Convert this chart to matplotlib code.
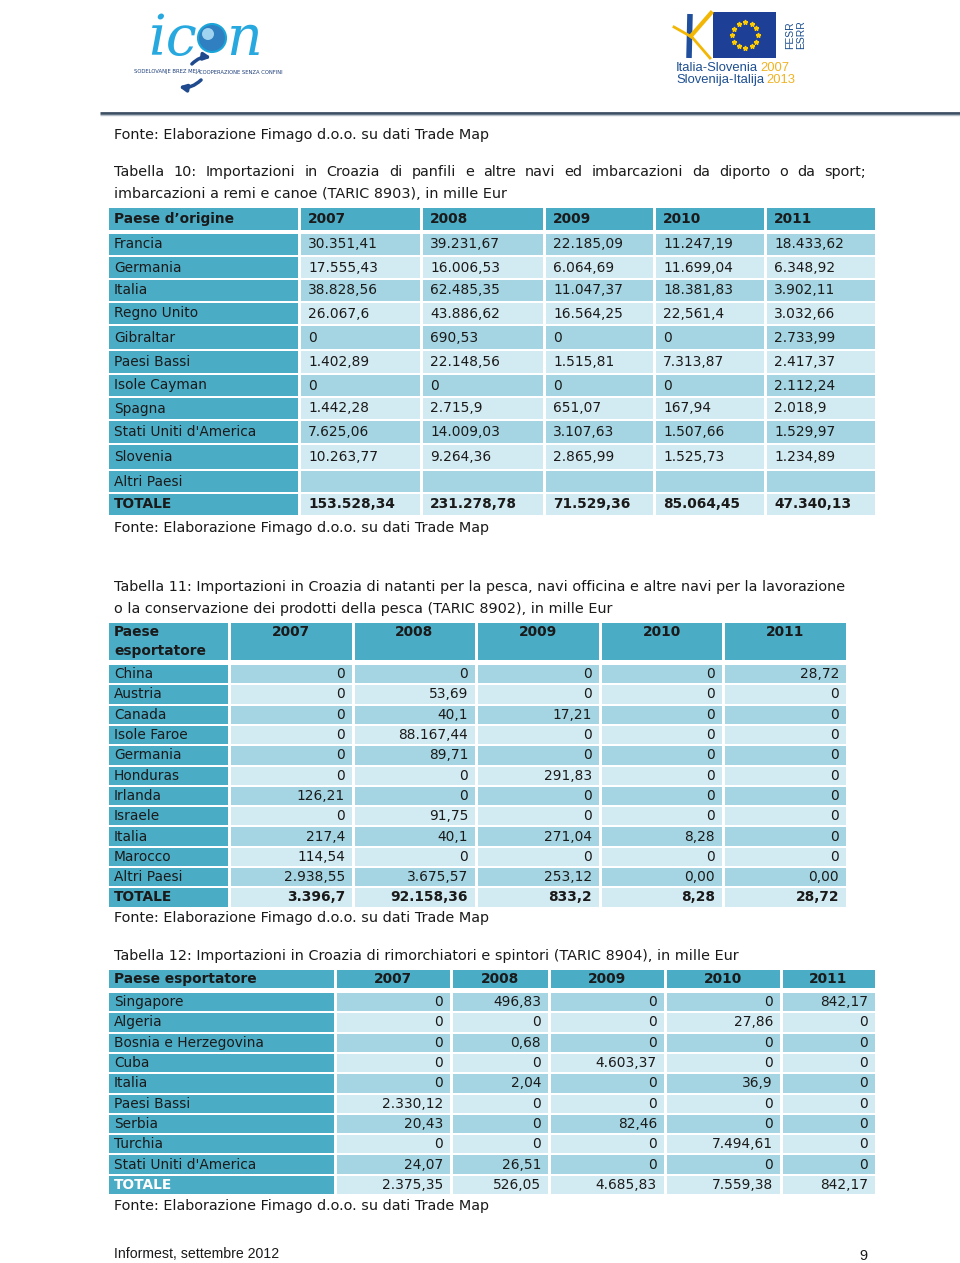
import numpy as np
import matplotlib
matplotlib.use('Agg')
import matplotlib.pyplot as plt
from matplotlib.patches import Rectangle, Circle

# ---- Tabella 10 (TARIC 8903) ----
anni = ['2007', '2008', '2009', '2010', '2011']

paesi10 = ['Francia', 'Germania', 'Italia', 'Regno Unito', 'Gibraltar', 'Paesi Bassi',
           'Isole Cayman', 'Spagna', "Stati Uniti d'America", 'Slovenia', 'Altri Paesi', 'TOTALE']
t10_2007 = ['30.351,41', '17.555,43', '38.828,56', '26.067,6', '0', '1.402,89', '0', '1.442,28',
            '7.625,06', '10.263,77', '', '153.528,34']
t10_2008 = ['39.231,67', '16.006,53', '62.485,35', '43.886,62', '690,53', '22.148,56', '0', '2.715,9',
            '14.009,03', '9.264,36', '', '231.278,78']
t10_2009 = ['22.185,09', '6.064,69', '11.047,37', '16.564,25', '0', '1.515,81', '0', '651,07',
            '3.107,63', '2.865,99', '', '71.529,36']
t10_2010 = ['11.247,19', '11.699,04', '18.381,83', '22,561,4', '0', '7.313,87', '0', '167,94',
            '1.507,66', '1.525,73', '', '85.064,45']
t10_2011 = ['18.433,62', '6.348,92', '3.902,11', '3.032,66', '2.733,99', '2.417,37', '2.112,24',
            '2.018,9', '1.529,97', '1.234,89', '', '47.340,13']

# ---- Tabella 11 (TARIC 8902) ----
paesi11 = ['China', 'Austria', 'Canada', 'Isole Faroe', 'Germania', 'Honduras', 'Irlanda',
           'Israele', 'Italia', 'Marocco', 'Altri Paesi', 'TOTALE']
t11_2007 = ['0', '0', '0', '0', '0', '0', '126,21', '0', '217,4', '114,54', '2.938,55', '3.396,7']
t11_2008 = ['0', '53,69', '40,1', '88.167,44', '89,71', '0', '0', '91,75', '40,1', '0', '3.675,57', '92.158,36']
t11_2009 = ['0', '0', '17,21', '0', '0', '291,83', '0', '0', '271,04', '0', '253,12', '833,2']
t11_2010 = ['0', '0', '0', '0', '0', '0', '0', '0', '8,28', '0', '0,00', '8,28']
t11_2011 = ['28,72', '0', '0', '0', '0', '0', '0', '0', '0', '0', '0,00', '28,72']

# ---- Tabella 12 (TARIC 8904) ----
paesi12 = ['Singapore', 'Algeria', 'Bosnia e Herzegovina', 'Cuba', 'Italia', 'Paesi Bassi',
           'Serbia', 'Turchia', "Stati Uniti d'America", 'TOTALE']
t12_2007 = ['0', '0', '0', '0', '0', '2.330,12', '20,43', '0', '24,07', '2.375,35']
t12_2008 = ['496,83', '0', '0,68', '0', '2,04', '0', '0', '0', '26,51', '526,05']
t12_2009 = ['0', '0', '0', '4.603,37', '0', '0', '82,46', '0', '0', '4.685,83']
t12_2010 = ['0', '27,86', '0', '0', '36,9', '0', '0', '7.494,61', '0', '7.559,38']
t12_2011 = ['842,17', '0', '0', '0', '0', '0', '0', '0', '0', '842,17']

fonte = 'Fonte: Elaborazione Fimago d.o.o. su dati Trade Map'

TEAL = '#4bacc6'
DARK = '#a5d5e2'
LIGHT = '#d2eaf1'
INK = '#1a1a1a'
FONT = 'DejaVu Sans'
FS = 10.4      # testo corrente
FS_T = 9.9     # testo nelle tabelle

fig = plt.figure(figsize=(9.6, 12.63), dpi=100)
ax = fig.add_axes([0, 0, 1, 1])
ax.set_xlim(0, 960)
ax.set_ylim(1263, 0)
ax.axis('off')
renderer = fig.canvas.get_renderer()


def cell(x0, x1, y0, y1, color):
    ax.add_patch(Rectangle((x0 + 1.5, y0 + 1), x1 - x0 - 3, y1 - y0 - 2,
                           facecolor=color, edgecolor='none'))


def txt(x, y, s, ha='left', bold=False, color=INK, size=FS_T):
    return ax.text(x, y, s, ha=ha, va='center', fontsize=size, color=color,
                   family=FONT, fontweight='bold' if bold else 'normal')


def justified(s, x0, x1, y):
    words = s.split()
    objs = [ax.text(0, y, w, va='center', fontsize=FS, color=INK, family=FONT) for w in words]
    widths = [o.get_window_extent(renderer).width for o in objs]
    gap = (x1 - x0 - sum(widths)) / (len(words) - 1)
    x = x0
    for o, w in zip(objs, widths):
        o.set_x(x)
        x += w + gap


def draw_table(paesi, cols, edges, head, rows, head_label, right=True, tot_white=False):
    # header
    for i in range(len(edges) - 1):
        cell(edges[i], edges[i + 1], head[0], head[1], TEAL)
    if isinstance(head_label, list):
        hy = head[0] + 10
        for k, lab in enumerate(head_label):
            txt(edges[0] + 7, hy + k * 19, lab, bold=True)
    else:
        hy = (head[0] + head[1]) / 2
        txt(edges[0] + 7, hy, head_label, bold=True)
    for j, a in enumerate(anni):
        if right:
            txt((edges[j + 1] + edges[j + 2]) / 2, hy, a, ha='center', bold=True)
        else:
            txt(edges[j + 1] + 9, hy, a, bold=True)
    # body
    for i, p in enumerate(paesi):
        y0, y1 = rows[i]
        yc = (y0 + y1) / 2
        tot = p == 'TOTALE'
        cell(edges[0], edges[1], y0, y1, TEAL)
        if tot and tot_white:
            txt(edges[0] + 7, yc, p, bold=True, color='white')
        else:
            txt(edges[0] + 7, yc, p, bold=tot)
        bg = DARK if i % 2 == 0 else LIGHT
        for j, col in enumerate(cols):
            cell(edges[j + 1], edges[j + 2], y0, y1, bg)
            bold_val = tot and not tot_white
            if right:
                txt(edges[j + 2] - 8, yc, col[i], ha='right', bold=bold_val)
            else:
                txt(edges[j + 1] + 9, yc, col[i], bold=bold_val)


def row_spans(top, heights):
    tops = top + np.concatenate([[0], np.cumsum(heights)[:-1]])
    return [(t, t + h) for t, h in zip(tops, heights)]


# ---- intestazione pagina ----
# logo icon
ax.text(148, 40, 'ic', fontsize=40, color='#27a8de', family='DejaVu Serif',
        style='italic', va='center')
ax.add_patch(Circle((212, 38), 14, facecolor='#2f7fc1', edgecolor='#1aa6d8', lw=1.5))
ax.add_patch(Circle((208, 34), 6, facecolor='#9fd3ef', edgecolor='none'))
ax.text(226, 40, 'n', fontsize=40, color='#27a8de', family='DejaVu Serif',
        style='italic', va='center')
ax.text(134, 72, 'SODELOVANJE BREZ MEJA', fontsize=3.8, color='#1e3f7a', va='center')
ax.text(199, 72, 'COOPERAZIONE SENZA CONFINI', fontsize=3.8, color='#1e3f7a', va='center')
ax.annotate('', xy=(214, 58), xytext=(190, 66),
            arrowprops=dict(arrowstyle='-|>', color='#1f4b8e', lw=2.5,
                            connectionstyle='arc3,rad=-0.3'))
ax.annotate('', xy=(176, 86), xytext=(203, 78),
            arrowprops=dict(arrowstyle='-|>', color='#1f4b8e', lw=2.5,
                            connectionstyle='arc3,rad=-0.3'))

# logo Italia-Slovenia
ax.plot([690, 689], [14, 58], color='#1f4e9c', lw=4, solid_capstyle='butt')
ax.plot([691, 711], [36, 13], color='#f2b705', lw=3)
ax.plot([691, 710], [36, 58], color='#f2b705', lw=2)
ax.plot([674, 690], [27, 36], color='#f2b705', lw=2)
ax.add_patch(Rectangle((713, 12), 63, 46, facecolor='#1d3f95', edgecolor='none'))
ang = np.linspace(0, 2 * np.pi, 13)[:-1]
ax.plot(745 + 13 * np.cos(ang), 35 + 13 * np.sin(ang), ls='none', marker='*',
        ms=3.5, color='#ffcc00')
ax.text(790, 35, 'FESR', rotation=90, fontsize=7.5, color='#1d4f91', ha='center', va='center',
        family='Liberation Sans')
ax.text(801, 35, 'ESRR', rotation=90, fontsize=7.5, color='#1d4f91', ha='center', va='center',
        family='Liberation Sans')
for yy, nome, anno in [(68, 'Italia-Slovenia', '2007'), (80, 'Slovenija-Italija', '2013')]:
    t = ax.text(676, yy, nome, fontsize=9.4, color='#1d4f91', va='center',
                family='Liberation Sans')
    w = t.get_window_extent(renderer).width
    ax.text(676 + w + 2, yy, anno, fontsize=9.4, color='#f0b323', va='center',
            family='Liberation Sans')

# linea di separazione
ax.plot([100, 960], [113, 113], color='#3d4f63', lw=2, solid_capstyle='butt')
ax.plot([100, 960], [115, 115], color='#b7c0ca', lw=1, solid_capstyle='butt')

# ---- testo e tabelle ----
txt(114, 135, fonte, size=FS)

justified('Tabella 10: Importazioni in Croazia di panfili e altre navi ed imbarcazioni da diporto o da sport;',
          114, 866, 172)
txt(114, 194, 'imbarcazioni a remi e canoe (TARIC 8903), in mille Eur', size=FS)
h10 = [23, 23, 23, 23, 25, 24, 23, 23, 24, 26, 23, 23]
draw_table(paesi10, [t10_2007, t10_2008, t10_2009, t10_2010, t10_2011],
           [107, 299, 421, 544, 654, 765, 876], (207, 231), row_spans(233, h10),
           'Paese d’origine', right=False)
txt(114, 528, fonte, size=FS)

txt(114, 587, 'Tabella 11: Importazioni in Croazia di natanti per la pesca, navi officina e altre navi per la lavorazione',
    size=FS)
txt(114, 609, 'o la conservazione dei prodotti della pesca (TARIC 8902), in mille Eur', size=FS)
draw_table(paesi11, [t11_2007, t11_2008, t11_2009, t11_2010, t11_2011],
           [107, 229, 353, 476, 600, 723, 847], (622, 661), row_spans(664, [20.3] * 12),
           ['Paese', 'esportatore'])
txt(114, 918, fonte, size=FS)

txt(114, 956, 'Tabella 12: Importazioni in Croazia di rimorchiatori e spintori (TARIC 8904), in mille Eur',
    size=FS)
draw_table(paesi12, [t12_2007, t12_2008, t12_2009, t12_2010, t12_2011],
           [107, 335, 451, 549, 665, 781, 876], (969, 989), row_spans(992, [20.3] * 10),
           'Paese esportatore', tot_white=True)
txt(114, 1206, fonte, size=FS)

# pie di pagina
ax.text(114, 1254, 'Informest, settembre 2012', fontsize=10.2, color=INK,
        family='Liberation Sans', va='center')
ax.text(868, 1256, '9', fontsize=10.5, color=INK, family='Liberation Sans', va='center', ha='right')

fig.savefig('out.png', dpi=100)
